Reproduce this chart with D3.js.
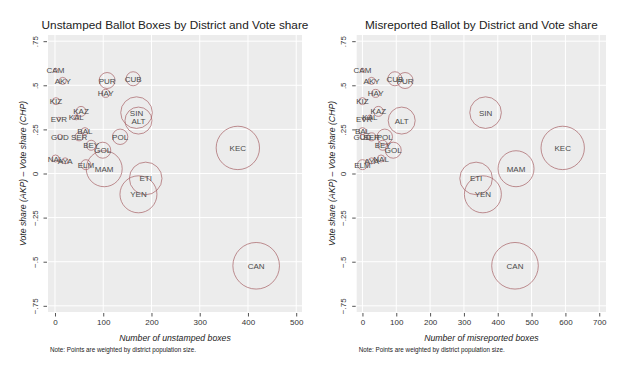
<!DOCTYPE html>
<html>
<head>
<meta charset="utf-8">
<script src="https://cdn.jsdelivr.net/npm/d3@7"></script>
<style>
  body { margin: 0; background: #fff; }
  svg { display: block; font-family: "Liberation Sans", Arial, sans-serif; }
</style>
</head>
<body>
<svg id="chart" width="625" height="375"></svg>
<script>
// districts
const districts = ["CAM","AKY","PUR","CUB","HAY","KIZ","SIN","ALT","KAZ","EVR","KAL","BAL","GUD","SER","POL","BEY","GOL","KEC","NAL","AYA","ELM","MAM","ETI","YEN","CAN"];
// vote share AKP - CHP
const voteShare = [0.585,0.525,0.527,0.537,0.454,0.41,0.345,0.30,0.352,0.31,0.318,0.24,0.208,0.208,0.208,0.16,0.132,0.145,0.085,0.072,0.05,0.027,-0.028,-0.118,-0.523];
// number of unstamped boxes
const unstamped = [1,16,108,162,105,2,169,173,54,8,44,62,10,50,135,75,99,379,1,21,64,102,188,173,417];
// number of misreported boxes
const misreported = [0,27,126,96,39,0,364,116,47,5,22,0,0,27,66,60,91,592,55,27,0,454,336,356,451];
// population (thousands), used as weight
const population = [7,21,108,83,27,21,421,307,42,4,10,21,10,27,100,42,108,794,21,15,42,546,448,577,916];

const yTicks = [-0.75,-0.5,-0.25,0,0.25,0.5,0.75];
const yTickLabels = ["\u2212.75","\u2212.5","\u2212.25","0",".25",".5",".75"];

const svg = d3.select("#chart");

const rScale = d3.scaleSqrt()
    .domain([0, d3.max(population)])
    .range([0, 23.3]);

function panel(opts) {
    const x = d3.scaleLinear().domain(opts.xDomain).range([opts.left, opts.right]);
    const y = d3.scaleLinear().domain([-0.785, 0.785]).range([312, 35]);

    const g = svg.append("g");

    // fond gris
    g.append("rect")
        .attr("x", opts.left).attr("y", 35)
        .attr("width", opts.right - opts.left).attr("height", 312 - 35)
        .attr("fill", "#ececec");

    // grille
    g.selectAll(".gx").data(opts.xTicks).enter().append("line")
        .attr("x1", d => x(d)).attr("x2", d => x(d))
        .attr("y1", 35).attr("y2", 312)
        .attr("stroke", "#fff").attr("stroke-width", 1);
    g.selectAll(".gy").data(yTicks).enter().append("line")
        .attr("x1", opts.left).attr("x2", opts.right)
        .attr("y1", d => y(d)).attr("y2", d => y(d))
        .attr("stroke", "#fff").attr("stroke-width", 1);

    // axes
    const ax = g.append("g")
        .attr("transform", "translate(0,313)")
        .call(d3.axisBottom(x).tickValues(opts.xTicks).tickSize(3.5).tickPadding(3).tickFormat(d3.format("d")));
    ax.select(".domain").remove();
    ax.selectAll("line").attr("stroke", "#555");
    ax.selectAll("text").attr("font-size", 8).attr("fill", "#333").attr("font-family", "Liberation Sans, Arial");

    const ay = g.append("g")
        .attr("transform", "translate(" + (opts.left - 1) + ",0)")
        .call(d3.axisLeft(y).tickValues(yTicks).tickSize(3.5).tickPadding(3).tickFormat((d, i) => yTickLabels[i]));
    ay.select(".domain").remove();
    ay.selectAll("line").attr("stroke", "#555");
    ay.selectAll("text")
        .attr("font-size", 8).attr("fill", "#333").attr("font-family", "Liberation Sans, Arial")
        .attr("text-anchor", "middle")
        .attr("dy", null)
        .attr("x", -9.5)
        .attr("transform", "rotate(-90,-9.5,0)")
        .attr("y", 0)
        .attr("dominant-baseline", "auto");

    // cercles
    g.append("g").selectAll("circle")
        .data(districts)
        .enter()
        .append("circle")
        .attr("cx", (d, i) => x(opts.values[i]))
        .attr("cy", (d, i) => y(voteShare[i]))
        .attr("r", (d, i) => rScale(population[i]))
        .attr("fill", "none")
        .attr("stroke", "#a66064")
        .attr("stroke-width", 0.7);

    // labels
    g.append("g").selectAll("text")
        .data(districts)
        .enter()
        .append("text")
        .text(d => d)
        .attr("x", (d, i) => x(opts.values[i]))
        .attr("y", (d, i) => y(voteShare[i]) + 3)
        .attr("text-anchor", "middle")
        .attr("font-size", 8)
        .attr("fill", "#4a4a4a");

    // titre
    const cx = (opts.left + opts.right) / 2;
    g.append("text")
        .text(opts.title)
        .attr("x", cx).attr("y", 29)
        .attr("text-anchor", "middle")
        .attr("font-size", 11.8)
        .attr("fill", "#222");

    g.append("text")
        .text(opts.xLabel)
        .attr("x", cx).attr("y", 341)
        .attr("text-anchor", "middle")
        .attr("font-size", 8.7)
        .attr("font-style", "italic")
        .attr("fill", "#222");

    g.append("text")
        .text("Vote share (AKP) \u2013 Vote share (CHP)")
        .attr("transform", "translate(" + (opts.left - 22) + ",173.5) rotate(-90)")
        .attr("text-anchor", "middle")
        .attr("font-size", 8.7)
        .attr("font-style", "italic")
        .attr("fill", "#222");

    g.append("text")
        .text("Note: Points are weighted by district population size.")
        .attr("x", opts.left + 2).attr("y", 352)
        .attr("font-size", 6.3)
        .attr("fill", "#222");
}

panel({
    left: 48, right: 302,
    xDomain: [-14.5, 512],
    xTicks: [0,100,200,300,400,500],
    values: unstamped,
    title: "Unstamped Ballot Boxes by District and Vote share",
    xLabel: "Number of unstamped boxes"
});

panel({
    left: 356.7, right: 606,
    xDomain: [-17, 720],
    xTicks: [0,100,200,300,400,500,600,700],
    values: misreported,
    title: "Misreported Ballot by District and Vote share",
    xLabel: "Number of misreported boxes"
});
</script>
</body>
</html>
